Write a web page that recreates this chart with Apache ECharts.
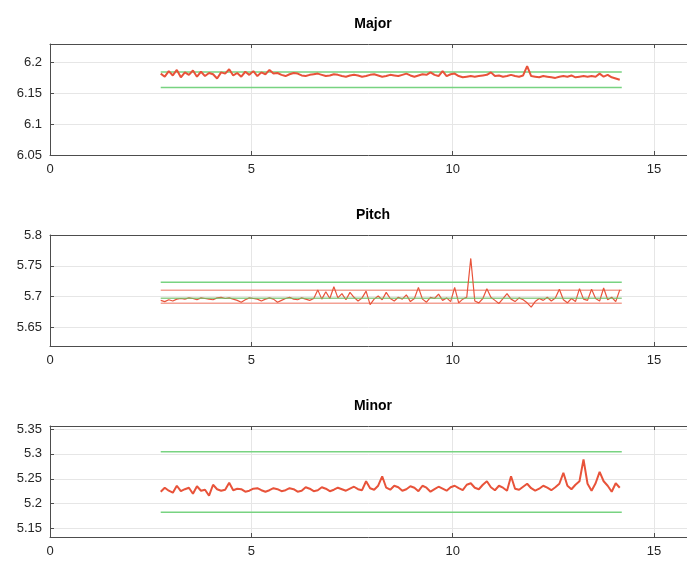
<!DOCTYPE html>
<html>
<head>
<meta charset="utf-8">
<script src="https://cdn.jsdelivr.net/npm/echarts@6/dist/echarts.min.js"></script>
<style>
  html, body { margin: 0; padding: 0; background: #fff; }
  #main { width: 687px; height: 561px; }
</style>
</head>
<body>
<div id="main"></div>
<script>
// sample grid (time axis), one reading every 0.1
var sampleStart = 2.75;
var sampleStep = 0.1;
var refSpan = [2.75, 14.2];

var titles = ['Major', 'Pitch', 'Minor'];
var xTicks = [0, 5, 10, 15];

// Major
var majorVals = [
  6.182, 6.177, 6.186, 6.179, 6.188, 6.176, 6.184, 6.180, 6.187, 6.177,
  6.185, 6.178, 6.183, 6.181, 6.174, 6.184, 6.182, 6.189, 6.179, 6.183,
  6.177, 6.185, 6.180, 6.186, 6.178, 6.184, 6.181, 6.188,
  6.182, 6.183, 6.180, 6.178, 6.181, 6.183, 6.182, 6.179, 6.178, 6.180,
  6.181, 6.182, 6.180, 6.178, 6.179, 6.181, 6.180, 6.178, 6.177, 6.179,
  6.180, 6.179, 6.177, 6.178, 6.180, 6.181, 6.179, 6.177, 6.178, 6.180,
  6.179, 6.178, 6.180, 6.182, 6.179, 6.177, 6.179, 6.181, 6.180, 6.184,
  6.180, 6.178, 6.186, 6.178, 6.181, 6.182, 6.178, 6.176, 6.177, 6.178,
  6.177, 6.178, 6.179, 6.180, 6.184, 6.178, 6.179, 6.177, 6.178, 6.180,
  6.178, 6.177, 6.179, 6.194,
  6.178, 6.177, 6.176, 6.178, 6.177, 6.176, 6.175, 6.177, 6.178, 6.177,
  6.179, 6.176, 6.177, 6.178, 6.177, 6.178, 6.177, 6.182, 6.177, 6.180,
  6.176, 6.174, 6.172
];
var majorGreen = [6.1845, 6.1595];

// Pitch
var pitchVals = [
  5.694, 5.692, 5.695, 5.693, 5.696, 5.697, 5.696, 5.698, 5.697, 5.695,
  5.698, 5.697, 5.696, 5.695, 5.698, 5.699, 5.697, 5.698, 5.696, 5.694,
  5.691, 5.695, 5.698, 5.697, 5.696, 5.693, 5.696, 5.698, 5.696, 5.691,
  5.694, 5.697, 5.699, 5.696, 5.695, 5.698, 5.696, 5.694, 5.697, 5.711,
  5.696, 5.708, 5.697, 5.716, 5.698, 5.705, 5.695, 5.707, 5.699, 5.693,
  5.698, 5.709, 5.687, 5.696, 5.701, 5.695, 5.707, 5.697, 5.693, 5.699,
  5.696, 5.703, 5.692, 5.697, 5.715, 5.696, 5.691, 5.699, 5.697, 5.704,
  5.694, 5.698, 5.692, 5.715, 5.690, 5.696, 5.699, 5.762, 5.693, 5.690,
  5.697, 5.713, 5.699, 5.694, 5.689, 5.697, 5.705, 5.696, 5.692, 5.698,
  5.695, 5.690, 5.683, 5.692, 5.697, 5.694, 5.699, 5.693, 5.698, 5.712,
  5.695, 5.690, 5.697, 5.692, 5.713, 5.696, 5.694, 5.712, 5.697, 5.693,
  5.714, 5.695, 5.699, 5.692, 5.711
];
var pitchGreen = [5.7233, 5.6975];
var pitchRed = [5.7103, 5.6893];

// Minor
var minorVals = [
  5.224, 5.232, 5.226, 5.222, 5.236, 5.225, 5.229, 5.232, 5.220, 5.235,
  5.226, 5.228, 5.216, 5.238, 5.229, 5.226, 5.228, 5.242, 5.227, 5.230,
  5.229, 5.224, 5.226, 5.230, 5.231, 5.227, 5.224, 5.227, 5.231, 5.229,
  5.225, 5.227, 5.231, 5.229, 5.224, 5.226, 5.233, 5.230, 5.225, 5.227,
  5.233, 5.230, 5.225, 5.228, 5.232, 5.229, 5.226, 5.230, 5.234, 5.229,
  5.227, 5.245, 5.231, 5.228, 5.236, 5.255, 5.232, 5.228, 5.236, 5.233,
  5.226, 5.229, 5.235, 5.232, 5.225, 5.236, 5.232, 5.224, 5.229, 5.234,
  5.230, 5.226, 5.233, 5.236, 5.231, 5.227, 5.238, 5.241, 5.232, 5.229,
  5.238, 5.245, 5.233, 5.227, 5.236, 5.232, 5.226, 5.255, 5.230, 5.228,
  5.234, 5.240, 5.231, 5.226, 5.230, 5.236, 5.232, 5.227, 5.233, 5.240,
  5.262, 5.236, 5.229, 5.238, 5.245, 5.289, 5.240, 5.226, 5.241, 5.264,
  5.245, 5.236, 5.224, 5.241, 5.232
];
var minorGreen = [5.3045, 5.1828];

var red = '#e8533a';
var green = '#78d381';
var paleRed = '#f3a194';
var frame = '#4d4d4d';

function pairs(vals) {
  return vals.map(function (v, i) {
    return [+(sampleStart + i * sampleStep).toFixed(2), v];
  });
}
function hline(v, idx, color, width, z) {
  return {
    type: 'line', xAxisIndex: idx, yAxisIndex: idx,
    data: [[refSpan[0], v], [refSpan[1], v]],
    symbol: 'none', silent: true, z: z || 2,
    lineStyle: { color: color, width: width || 1.5 }
  };
}
function dataLine(vals, idx, width) {
  return {
    type: 'line', xAxisIndex: idx, yAxisIndex: idx,
    data: pairs(vals), symbol: 'none', z: 3,
    lineStyle: { color: red, width: width }
  };
}

var tops = [44, 235, 426];
var yRanges = [
  { min: 6.05, max: 6.23, showMin: true },
  { min: 5.62, max: 5.8, showMin: false },
  { min: 5.133, max: 5.356, showMin: false }
];

var labelFont = { color: '#262626', fontSize: 13, fontFamily: 'Liberation Sans' };

// bottom axes (labels) + top axes (only the frame line and ticks), no right edge
var bottomAxes = tops.map(function (t, i) {
  return {
    type: 'value', gridIndex: i, min: 0, max: 15.82, interval: 5,
    axisLine: { show: true, lineStyle: { color: frame } },
    axisTick: { show: true, inside: true, length: 4, lineStyle: { color: frame } },
    axisLabel: Object.assign({ margin: 8, showMaxLabel: false }, labelFont),
    splitLine: { show: true, lineStyle: { color: '#e6e6e6' } }
  };
});
var topAxes = tops.map(function (t, i) {
  return {
    type: 'value', gridIndex: i, position: 'top', min: 0, max: 15.82, interval: 5,
    axisLine: { show: true, lineStyle: { color: frame } },
    axisTick: { show: true, inside: true, length: 4, lineStyle: { color: frame } },
    axisLabel: { show: false },
    splitLine: { show: false }
  };
});

var option = {
  animation: false,
  backgroundColor: '#fff',
  title: titles.map(function (t, i) {
    return {
      text: t, left: 368, top: tops[i] - 32, textAlign: 'center',
      textStyle: { fontSize: 14, fontWeight: 'bold', color: '#000', fontFamily: 'Liberation Sans' }
    };
  }),
  grid: tops.map(function (t) {
    return { left: 50, right: 0, top: t, height: 111 };
  }),
  xAxis: bottomAxes.concat(topAxes),
  yAxis: yRanges.map(function (r, i) {
    return {
      type: 'value', gridIndex: i, min: r.min, max: r.max, splitNumber: 4,
      axisLine: { show: true, lineStyle: { color: frame } },
      axisTick: { show: true, inside: true, length: 4, lineStyle: { color: frame } },
      axisLabel: Object.assign({ margin: 8, showMinLabel: r.showMin, showMaxLabel: i === 1 }, labelFont),
      splitLine: { show: true, lineStyle: { color: '#e6e6e6' } }
    };
  }),
  series: [
    hline(majorGreen[0], 0, green), hline(majorGreen[1], 0, green),
    dataLine(majorVals, 0, 2),

    hline(pitchGreen[0], 1, green),
    hline(pitchRed[0], 1, paleRed), hline(pitchRed[1], 1, paleRed),
    dataLine(pitchVals, 1, 1.2),
    hline(pitchGreen[1], 1, 'rgba(110,190,100,0.75)', 1.5, 4),

    hline(minorGreen[0], 2, green), hline(minorGreen[1], 2, green),
    dataLine(minorVals, 2, 2)
  ]
};

var myChart = echarts.init(document.getElementById('main'));
myChart.setOption(option);
</script>
</body>
</html>
